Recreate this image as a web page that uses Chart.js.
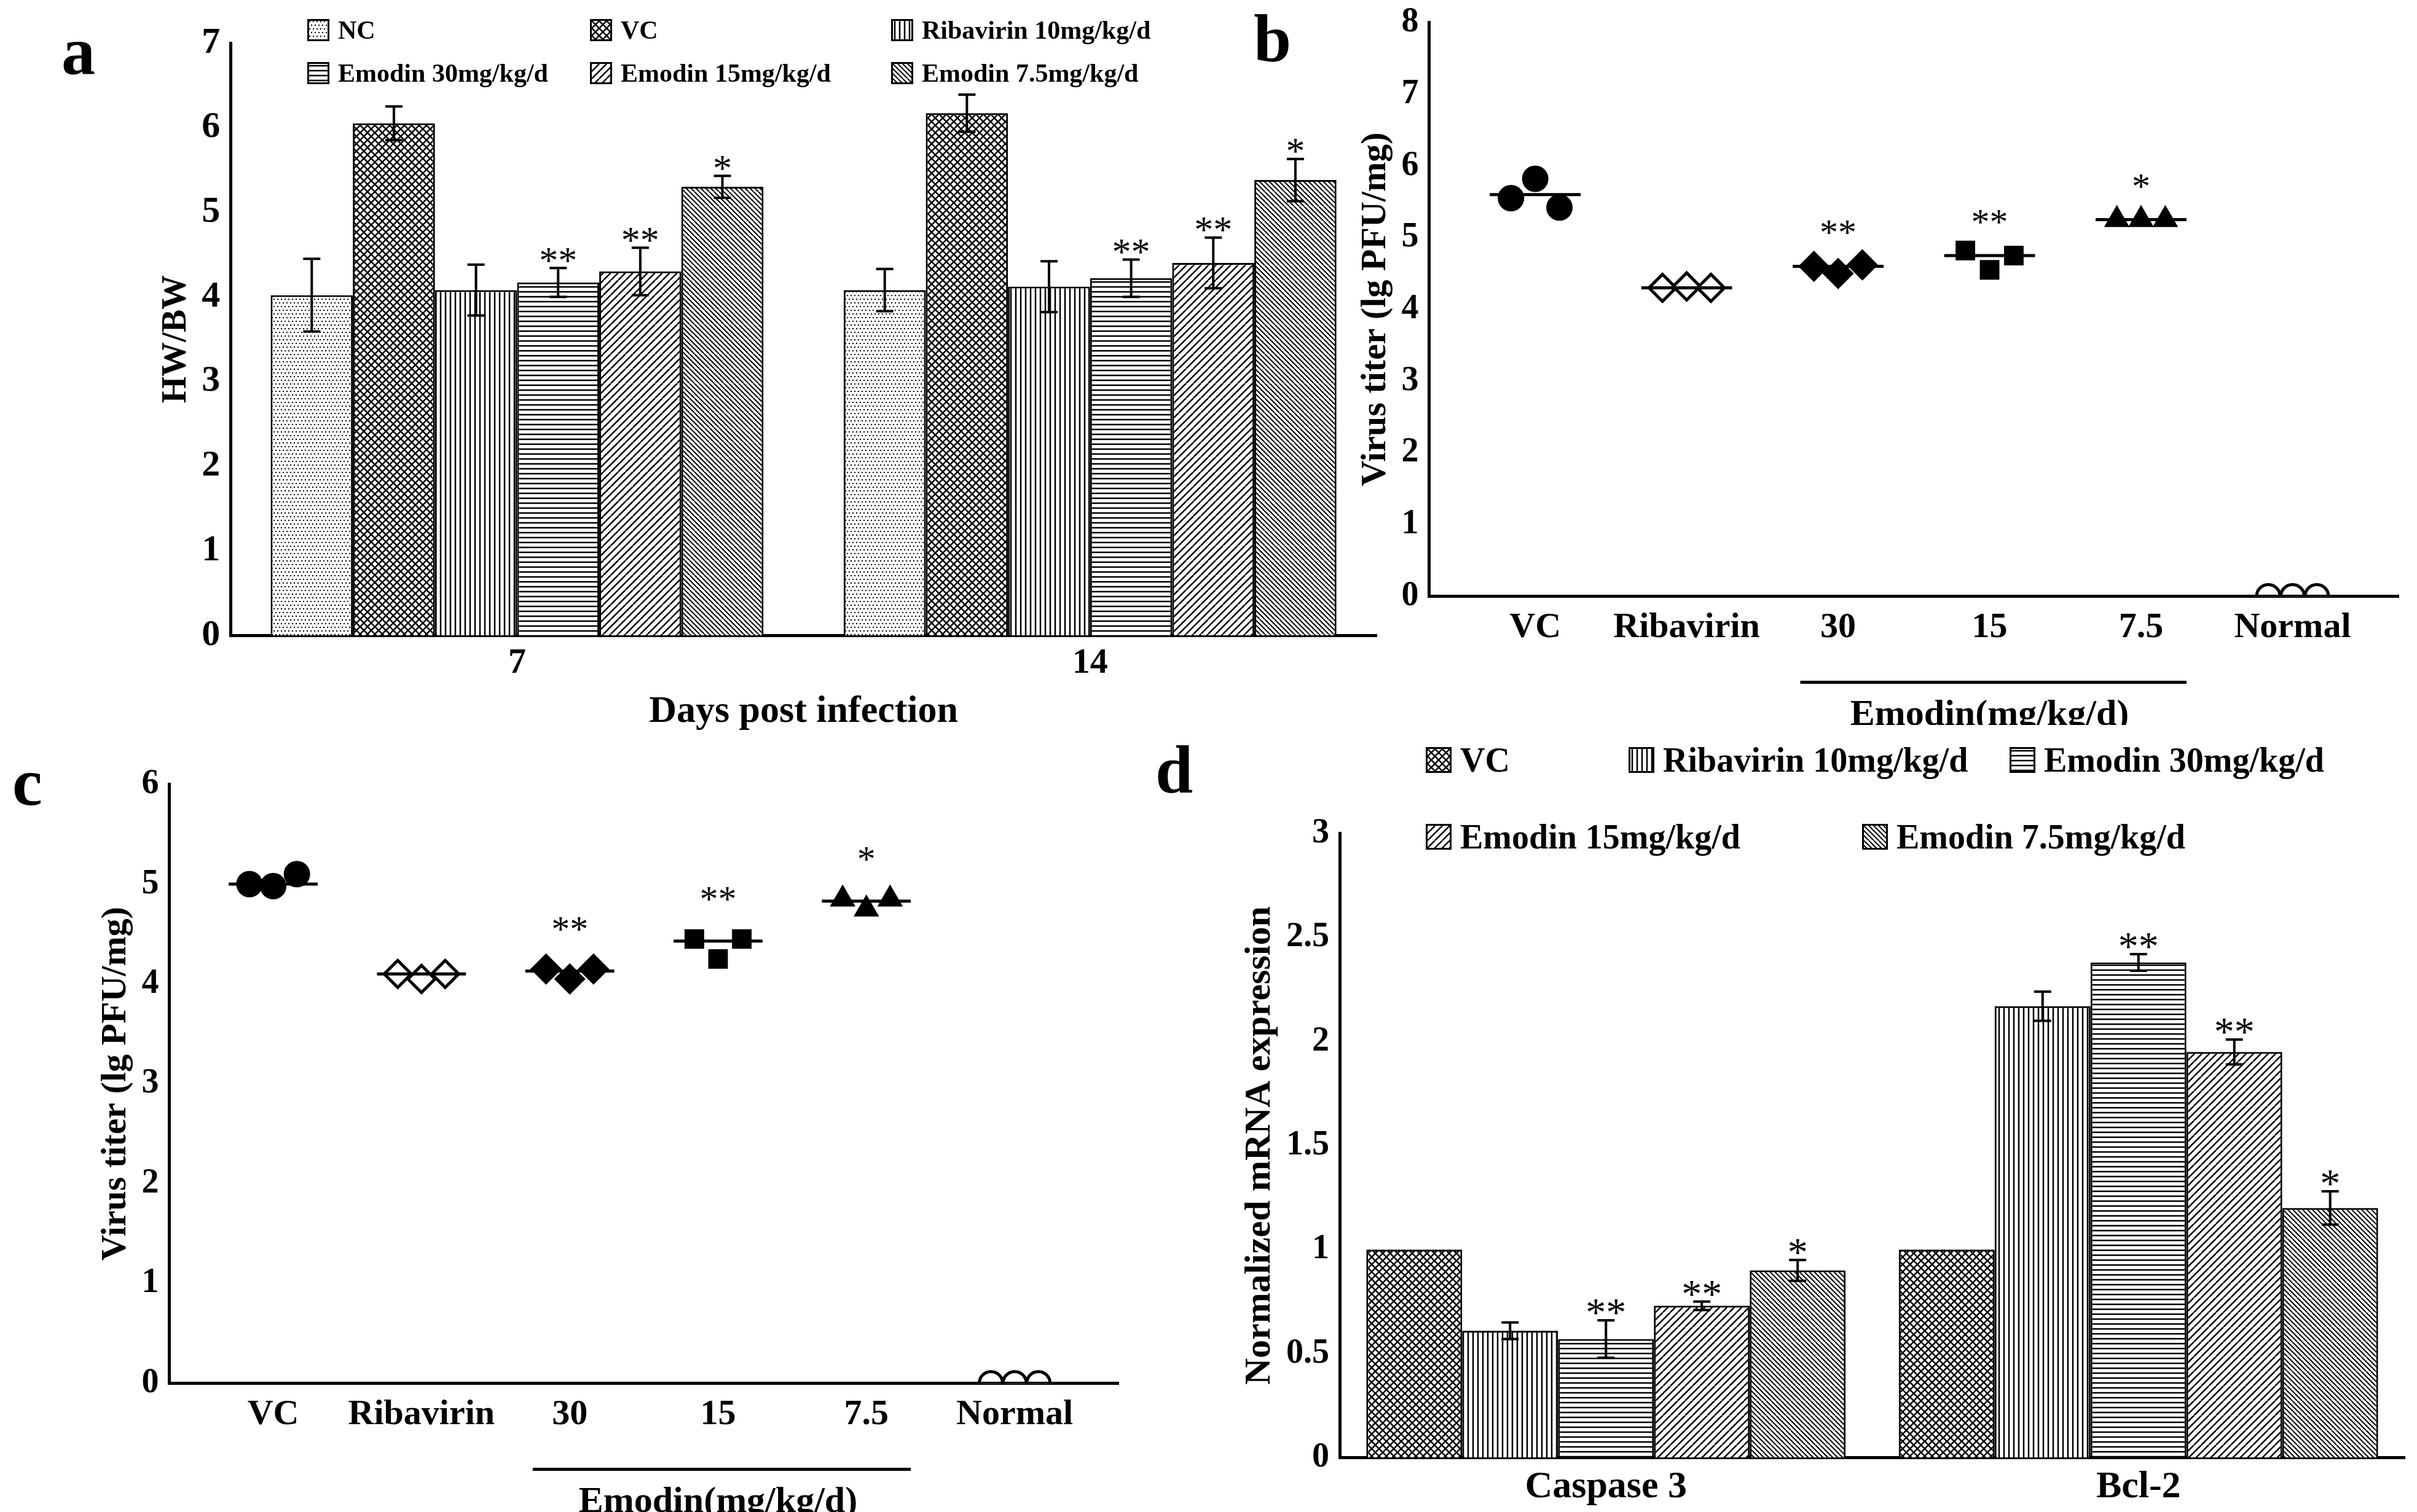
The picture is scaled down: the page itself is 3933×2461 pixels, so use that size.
<!DOCTYPE html>
<html><head><meta charset="utf-8">
<script src="https://cdn.jsdelivr.net/npm/chart.js@4"></script>
<style>
body{margin:0;background:#fff;width:3933px;height:2461px;position:relative;overflow:hidden;font-family:"Liberation Serif",serif;font-weight:bold}
.box{position:absolute}
.lab{position:absolute;font-size:110px;font-weight:bold}
.leg{position:absolute;font-size:44px;display:flex;align-items:center;white-space:nowrap}
.leg canvas{border:3px solid #000;margin-right:14px}
</style></head><body>
<div class="lab" style="left:100px;top:20px">a</div>
<div class="lab" style="left:2040px;top:0px">b</div>
<div class="lab" style="left:20px;top:1210px">c</div>
<div class="lab" style="left:1880px;top:1190px">d</div>
<div class="box" style="left:250px;top:0;width:2010px;height:1200px"><canvas id="ca"></canvas></div>
<div class="box" style="left:2200px;top:0;width:1733px;height:1180px"><canvas id="cb"></canvas></div>
<div class="box" style="left:150px;top:1240px;width:1700px;height:1221px"><canvas id="cc"></canvas></div>
<div class="box" style="left:2010px;top:1320px;width:1923px;height:1141px"><canvas id="cd"></canvas></div>
<div id="legA"></div><div id="legD"></div>
<script>
// panel a
const daysA = ['7', '14'];
const groupsA = ['NC', 'VC', 'Ribavirin 10mg/kg/d', 'Emodin 30mg/kg/d', 'Emodin 15mg/kg/d', 'Emodin 7.5mg/kg/d'];
const meansA = [[4.02, 4.08], [6.05, 6.17], [4.08, 4.12], [4.17, 4.22], [4.3, 4.4], [5.3, 5.38]];
const errA = [[0.43, 0.25], [0.2, 0.22], [0.3, 0.3], [0.17, 0.22], [0.28, 0.3], [0.13, 0.25]];
const starsA = [['', ''], ['', ''], ['', ''], ['**', '**'], ['**', '**'], ['*', '*']];
// panels b, c
const catsBC = ['VC', 'Ribavirin', '30', '15', '7.5', 'Normal'];
const offsets = [-0.16, 0, 0.16];
const pointsB = [[5.55, 5.82, 5.42], [4.3, 4.32, 4.3], [4.6, 4.5, 4.62], [4.82, 4.55, 4.75], [5.25, 5.25, 5.25], [0, 0, 0]];
const meansB = [5.6, 4.3, 4.6, 4.75, 5.25, 0];
const starsB = ['', '', '**', '**', '*', ''];
const pointsC = [[5.0, 4.98, 5.1], [4.1, 4.05, 4.1], [4.15, 4.05, 4.15], [4.45, 4.25, 4.45], [4.85, 4.75, 4.85], [0, 0, 0]];
const meansC = [5.0, 4.1, 4.13, 4.43, 4.83, 0];
const starsC = ['', '', '**', '**', '*', ''];
// panel d
const genesD = ['Caspase 3', 'Bcl-2'];
const groupsD = ['VC', 'Ribavirin 10mg/kg/d', 'Emodin 30mg/kg/d', 'Emodin 15mg/kg/d', 'Emodin 7.5mg/kg/d'];
const meansD = [[1.0, 1.0], [0.61, 2.17], [0.57, 2.38], [0.73, 1.95], [0.9, 1.2]];
const errD = [[0, 0], [0.04, 0.07], [0.09, 0.04], [0.02, 0.06], [0.05, 0.08]];
const starsD = [['', ''], ['', ''], ['**', '**'], ['**', '**'], ['*', '*']];

const F = '"Liberation Serif", serif';
function pattern(kind) {
  const s = 24, c = document.createElement('canvas');
  c.width = s; c.height = s;
  const g = c.getContext('2d');
  g.fillStyle = '#fff'; g.fillRect(0, 0, s, s);
  g.strokeStyle = '#000'; g.fillStyle = '#000'; g.lineWidth = 2.5;
  const line = (a, b, cc, d) => { g.beginPath(); g.moveTo(a, b); g.lineTo(cc, d); g.stroke(); };
  if (kind === 'dots') { for (let i = 0; i < 4; i++) for (let j = 0; j < 4; j++) g.fillRect(i * 6 + (j % 2) * 3, j * 6, 2, 2); }
  if (kind === 'cross') { for (let k = -s; k <= s; k += 12) { line(k, 0, k + s, s); line(k + s, 0, k, s); } }
  if (kind === 'vert') { for (let k = 3; k < s; k += 8) line(k, 0, k, s); }
  if (kind === 'horz') { for (let k = 3; k < s; k += 8) line(0, k, s, k); }
  if (kind === 'fwd') { for (let k = -s; k <= 2 * s; k += 12) line(k, s, k + s, 0); }
  if (kind === 'back') { g.lineWidth = 2; for (let k = -s; k <= 2 * s; k += 8) line(k, 0, k + s, s); }
  return g.createPattern(c, 'repeat');
}
const kindsA = ['dots', 'cross', 'vert', 'horz', 'fwd', 'back'];
const kindsD = ['cross', 'vert', 'horz', 'fwd', 'back'];

function legend(id, names, kinds, items) {
  const el = document.getElementById(id);
  names.forEach((n, i) => {
    const d = document.createElement('div'); d.className = 'leg';
    d.style.left = items[i][0] + 'px'; d.style.top = items[i][1] + 'px'; d.style.fontSize = items[i][2] + 'px';
    const cv = document.createElement('canvas'); cv.width = items[i][3]; cv.height = items[i][3];
    const g = cv.getContext('2d'); g.fillStyle = pattern(kinds[i]); g.fillRect(0, 0, cv.width, cv.height);
    d.appendChild(cv); d.appendChild(document.createTextNode(n)); el.appendChild(d);
  });
}
legend('legA', groupsA, kindsA, [[500, 25, 42, 30], [960, 25, 42, 30], [1450, 25, 42, 30], [500, 95, 42, 30], [960, 95, 42, 30], [1450, 95, 42, 30]]);
legend('legD', groupsD, kindsD, [[2320, 1205, 56, 36], [2650, 1205, 56, 36], [3270, 1205, 56, 36], [2320, 1330, 56, 36], [3030, 1330, 56, 36]]);

function barPlugin(errs, stars, fs) {
  return { id: 'err', afterDatasetsDraw(chart) {
    const g = chart.ctx, y = chart.scales.y;
    g.save(); g.strokeStyle = '#000'; g.lineWidth = 4; g.fillStyle = '#000';
    g.font = fs + 'px ' + F; g.textAlign = 'center';
    chart.data.datasets.forEach((ds, di) => {
      chart.getDatasetMeta(di).data.forEach((b, i) => {
        const v = ds.data[i], e = errs[di][i];
        const top = y.getPixelForValue(v + e), bot = y.getPixelForValue(v - e);
        if (e > 0) {
          g.beginPath(); g.moveTo(b.x, top); g.lineTo(b.x, bot);
          g.moveTo(b.x - 14, top); g.lineTo(b.x + 14, top);
          g.moveTo(b.x - 14, bot); g.lineTo(b.x + 14, bot); g.stroke();
        }
        if (stars[di][i]) g.fillText(stars[di][i], b.x, top - 14 + fs * 0.35);
      });
    });
    g.restore();
  } };
}

const axisFont = (s) => ({ family: F, weight: 'bold', size: s });

new Chart(document.getElementById('ca'), {
  type: 'bar',
  data: { labels: daysA, datasets: groupsA.map((n, i) => ({
    label: n, data: meansA[i], backgroundColor: pattern(kindsA[i]), borderColor: '#000', borderWidth: 3,
    categoryPercentage: 0.86, barPercentage: 1 })) },
  options: {
    responsive: true, maintainAspectRatio: false, animation: false,
    layout: { padding: { top: 70, right: 20 } },
    plugins: { legend: { display: false }, tooltip: { enabled: false } },
    scales: {
      y: { min: 0, max: 7, ticks: { stepSize: 1, color: '#000', font: axisFont(60) },
        grid: { display: false, drawTicks: true, tickLength: 14, tickColor: '#000' }, border: { color: '#000', width: 5 },
        title: { display: true, text: 'HW/BW', color: '#000', font: axisFont(56) } },
      x: { ticks: { color: '#000', font: axisFont(58) }, grid: { display: false }, border: { color: '#000', width: 5 },
        title: { display: true, text: 'Days post infection', color: '#000', font: axisFont(62) } }
    }
  },
  plugins: [barPlugin(errA, starsA, 62)]
});

const styles = [['circle', '#000'], ['rectRot', '#fff'], ['rectRot', '#000'], ['rect', '#000'], ['triangle', '#000'], ['circle', '#fff']];
function scatterChart(id, pts, means, stars, ymax, sz) {
  const ds = [];
  pts.forEach((p, g) => {
    ds.push({ type: 'line', data: [{ x: g + 1 - 0.3, y: means[g] }, { x: g + 1 + 0.3, y: means[g] }],
      borderColor: '#000', borderWidth: 5, pointRadius: 0 });
    ds.push({ type: 'scatter', data: p.map((v, k) => ({ x: g + 1 + offsets[k], y: v })),
      pointStyle: styles[g][0], backgroundColor: styles[g][1], borderColor: '#000', borderWidth: 5,
      pointRadius: styles[g][0] === 'rectRot' ? 22 : 19 });
  });
  new Chart(document.getElementById(id), {
    type: 'scatter', data: { datasets: ds },
    options: {
      responsive: true, maintainAspectRatio: false, animation: false,
      layout: { padding: { bottom: 120, right: 30, top: 20 } },
      plugins: { legend: { display: false }, tooltip: { enabled: false } },
      scales: {
        y: { min: 0, max: ymax, ticks: { stepSize: 1, color: '#000', font: axisFont(56) },
          grid: { display: false, drawTicks: true, tickLength: 14, tickColor: '#000' }, border: { color: '#000', width: 5 },
          title: { display: true, text: 'Virus titer (lg PFU/mg)', color: '#000', font: axisFont(58) } },
        x: { type: 'linear', min: 0.3, max: 6.7, afterBuildTicks: (a) => { a.ticks = catsBC.map((c, i) => ({ value: i + 1 })); },
          ticks: { color: '#000', font: axisFont(sz), callback: (v) => catsBC[v - 1] },
          grid: { display: false, drawTicks: true, tickLength: 14, tickColor: '#000' }, border: { color: '#000', width: 5 } }
      }
    },
    plugins: [{ id: 'ann', afterDraw(chart) {
      const g = chart.ctx, x = chart.scales.x, y = chart.scales.y;
      g.save(); g.fillStyle = '#000'; g.strokeStyle = '#000'; g.textAlign = 'center';
      g.font = '60px ' + F;
      stars.forEach((s, i) => { if (s) g.fillText(s, x.getPixelForValue(i + 1), y.getPixelForValue(means[i] + 0.3)); });
      const lineY = chart.chartArea.bottom + 140;
      g.lineWidth = 5; g.beginPath();
      g.moveTo(x.getPixelForValue(2.75), lineY); g.lineTo(x.getPixelForValue(5.3), lineY); g.stroke();
      g.font = 'bold 60px ' + F;
      g.fillText('Emodin(mg/kg/d)', x.getPixelForValue(4), lineY + 70);
      g.restore();
    } }]
  });
}
scatterChart('cb', pointsB, meansB, starsB, 8, 58);
scatterChart('cc', pointsC, meansC, starsC, 6, 58);

new Chart(document.getElementById('cd'), {
  type: 'bar',
  data: { labels: genesD, datasets: groupsD.map((n, i) => ({
    label: n, data: meansD[i], backgroundColor: pattern(kindsD[i]), borderColor: '#000', borderWidth: 3,
    categoryPercentage: 0.9, barPercentage: 1 })) },
  options: {
    responsive: true, maintainAspectRatio: false, animation: false,
    layout: { padding: { top: 20, right: 20 } },
    plugins: { legend: { display: false }, tooltip: { enabled: false } },
    scales: {
      y: { min: 0, max: 3, ticks: { stepSize: 0.5, color: '#000', font: axisFont(56), callback: (v) => String(v) },
        grid: { display: false, drawTicks: true, tickLength: 14, tickColor: '#000' }, border: { color: '#000', width: 5 },
        title: { display: true, text: 'Normalized mRNA expression', color: '#000', font: axisFont(60) } },
      x: { ticks: { color: '#000', font: axisFont(62) }, grid: { display: false }, border: { color: '#000', width: 5 } }
    }
  },
  plugins: [barPlugin(errD, starsD, 66)]
});
</script>
</body></html>
